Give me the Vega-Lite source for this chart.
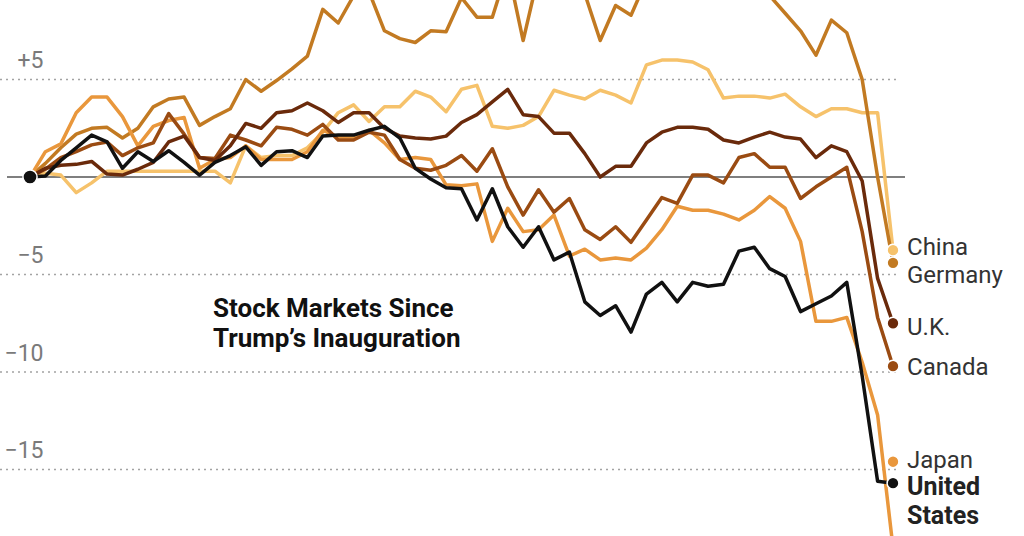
{
  "$schema": "https://vega.github.io/schema/vega-lite/v6.json",
  "width": 1024,
  "height": 536,
  "autosize": {"type": "none"},
  "padding": 0,
  "background": "white",
  "config": {"view": {"stroke": null}},
  "datasets": {
    "markets": [
      {"t": 0, "US": 0, "JP": 0, "CN": 0, "DE": 0, "CA": 0, "UK": 0},
      {"t": 1, "US": 0.05, "JP": 1.3, "CN": 0.2, "DE": 0.7, "CA": 0.4, "UK": 0.45},
      {"t": 2, "US": 0.85, "JP": 1.7, "CN": 0.1, "DE": 1.5, "CA": 1.0, "UK": 0.6},
      {"t": 3, "US": 1.5, "JP": 3.3, "CN": -0.8, "DE": 2.2, "CA": 1.3, "UK": 0.65},
      {"t": 4, "US": 2.15, "JP": 4.1, "CN": -0.3, "DE": 2.5, "CA": 1.65, "UK": 0.8},
      {"t": 5, "US": 1.8, "JP": 4.1, "CN": 0.3, "DE": 2.55, "CA": 1.8, "UK": 0.15},
      {"t": 6, "US": 0.45, "JP": 3.1, "CN": 0.3, "DE": 2.0, "CA": 1.1, "UK": 0.1},
      {"t": 7, "US": 1.3, "JP": 1.6, "CN": 0.3, "DE": 2.5, "CA": 1.5, "UK": 0.4},
      {"t": 8, "US": 0.8, "JP": 2.6, "CN": 0.3, "DE": 3.6, "CA": 1.75, "UK": 0.75},
      {"t": 9, "US": 1.35, "JP": 2.9, "CN": 0.3, "DE": 4.0, "CA": 3.25, "UK": 1.8},
      {"t": 10, "US": 0.75, "JP": 3.05, "CN": 0.3, "DE": 4.1, "CA": 2.2, "UK": 2.1},
      {"t": 11, "US": 0.1, "JP": 0.45, "CN": 0.3, "DE": 2.65, "CA": 1.0, "UK": 1.0},
      {"t": 12, "US": 0.75, "JP": 0.9, "CN": 0.3, "DE": 3.1, "CA": 0.95, "UK": 0.85},
      {"t": 13, "US": 1.1, "JP": 1.0, "CN": -0.3, "DE": 3.5, "CA": 2.15, "UK": 1.6},
      {"t": 14, "US": 1.55, "JP": 1.6, "CN": 1.6, "DE": 5.0, "CA": 1.9, "UK": 2.75},
      {"t": 15, "US": 0.6, "JP": 0.9, "CN": 1.0, "DE": 4.4, "CA": 1.6, "UK": 2.5},
      {"t": 16, "US": 1.3, "JP": 0.9, "CN": 1.1, "DE": 4.95, "CA": 2.55, "UK": 3.3},
      {"t": 17, "US": 1.35, "JP": 0.9, "CN": 1.1, "DE": 5.55, "CA": 2.45, "UK": 3.4},
      {"t": 18, "US": 1.0, "JP": 1.3, "CN": 1.5, "DE": 6.2, "CA": 2.15, "UK": 3.8},
      {"t": 19, "US": 2.1, "JP": 2.4, "CN": 2.3, "DE": 8.6, "CA": 2.7, "UK": 3.4},
      {"t": 20, "US": 2.15, "JP": 2.05, "CN": 3.3, "DE": 7.9, "CA": 1.9, "UK": 2.8},
      {"t": 21, "US": 2.15, "JP": 2.05, "CN": 3.7, "DE": 9.3, "CA": 1.9, "UK": 3.3},
      {"t": 22, "US": 2.4, "JP": 2.4, "CN": 2.85, "DE": 9.5, "CA": 2.3, "UK": 3.3},
      {"t": 23, "US": 2.6, "JP": 1.75, "CN": 3.6, "DE": 7.5, "CA": 2.15, "UK": 2.5},
      {"t": 24, "US": 2.0, "JP": 0.9, "CN": 3.6, "DE": 7.1, "CA": 0.9, "UK": 2.1},
      {"t": 25, "US": 0.45, "JP": 1.0, "CN": 4.4, "DE": 6.9, "CA": 0.45, "UK": 2.0},
      {"t": 26, "US": -0.1, "JP": 0.9, "CN": 4.1, "DE": 7.5, "CA": 0.35, "UK": 1.95},
      {"t": 27, "US": -0.55, "JP": -0.4, "CN": 3.35, "DE": 7.45, "CA": 0.6, "UK": 2.1},
      {"t": 28, "US": -0.6, "JP": -0.45, "CN": 4.5, "DE": 9.2, "CA": 1.1, "UK": 2.8},
      {"t": 29, "US": -2.2, "JP": -0.35, "CN": 4.7, "DE": 8.2, "CA": 0.3, "UK": 3.2},
      {"t": 30, "US": -0.6, "JP": -3.3, "CN": 2.6, "DE": 8.2, "CA": 1.45, "UK": 3.85},
      {"t": 31, "US": -2.55, "JP": -1.6, "CN": 2.5, "DE": 10.7, "CA": -0.5, "UK": 4.5},
      {"t": 32, "US": -3.6, "JP": -2.8, "CN": 2.65, "DE": 7.0, "CA": -1.95, "UK": 3.2},
      {"t": 33, "US": -2.55, "JP": -2.7, "CN": 3.1, "DE": 10.4, "CA": -0.65, "UK": 3.1},
      {"t": 34, "US": -4.25, "JP": -1.95, "CN": 4.45, "DE": 12.0, "CA": -1.8, "UK": 2.25},
      {"t": 35, "US": -3.85, "JP": -4.05, "CN": 4.2, "DE": 10.1, "CA": -1.1, "UK": 2.25},
      {"t": 36, "US": -6.4, "JP": -3.7, "CN": 4.0, "DE": 9.4, "CA": -2.7, "UK": 1.2},
      {"t": 37, "US": -7.1, "JP": -4.25, "CN": 4.45, "DE": 7.0, "CA": -3.2, "UK": 0.0},
      {"t": 38, "US": -6.6, "JP": -4.15, "CN": 4.2, "DE": 8.8, "CA": -2.55, "UK": 0.55},
      {"t": 39, "US": -7.95, "JP": -4.25, "CN": 3.8, "DE": 8.3, "CA": -3.35, "UK": 0.55},
      {"t": 40, "US": -6.0, "JP": -3.65, "CN": 5.75, "DE": 10.1, "CA": -2.2, "UK": 1.75},
      {"t": 41, "US": -5.4, "JP": -2.7, "CN": 6.0, "DE": 10.8, "CA": -1.05, "UK": 2.3},
      {"t": 42, "US": -6.4, "JP": -1.5, "CN": 6.0, "DE": 11.85, "CA": -1.35, "UK": 2.55},
      {"t": 43, "US": -5.4, "JP": -1.7, "CN": 5.9, "DE": 11.4, "CA": 0.1, "UK": 2.55},
      {"t": 44, "US": -5.6, "JP": -1.7, "CN": 5.5, "DE": 10.0, "CA": 0.1, "UK": 2.45},
      {"t": 45, "US": -5.5, "JP": -1.9, "CN": 4.05, "DE": 9.5, "CA": -0.3, "UK": 1.9},
      {"t": 46, "US": -3.8, "JP": -2.2, "CN": 4.15, "DE": 9.3, "CA": 1.0, "UK": 1.75},
      {"t": 47, "US": -3.6, "JP": -1.7, "CN": 4.15, "DE": 10.55, "CA": 1.2, "UK": 2.05},
      {"t": 48, "US": -4.7, "JP": -1.0, "CN": 4.05, "DE": 9.3, "CA": 0.5, "UK": 2.3},
      {"t": 49, "US": -5.1, "JP": -1.6, "CN": 4.25, "DE": 8.4, "CA": 0.5, "UK": 2.05},
      {"t": 50, "US": -6.9, "JP": -3.3, "CN": 3.6, "DE": 7.5, "CA": -1.1, "UK": 1.95},
      {"t": 51, "US": -6.5, "JP": -7.4, "CN": 3.1, "DE": 6.25, "CA": -0.5, "UK": 1.0},
      {"t": 52, "US": -6.1, "JP": -7.4, "CN": 3.5, "DE": 8.05, "CA": 0.0, "UK": 1.6},
      {"t": 53, "US": -5.4, "JP": -7.2, "CN": 3.5, "DE": 7.4, "CA": 0.5, "UK": 1.3},
      {"t": 54, "US": -10.2, "JP": -9.5, "CN": 3.3, "DE": 5.0, "CA": -2.8, "UK": -0.2},
      {"t": 55, "US": -15.6, "JP": -12.2, "CN": 3.3, "DE": 0.0, "CA": -7.2, "UK": -5.2},
      {"t": 56, "US": -15.7, "JP": -19.0, "CN": -3.75, "DE": -4.4, "CA": -9.7, "UK": -7.5}
    ],
    "labels": [
      {"k": "CN", "name": "China", "t": 56, "dot": -3.75, "lab": -4.0},
      {"k": "DE", "name": "Germany", "t": 56, "dot": -4.4, "lab": -5.45},
      {"k": "UK", "name": "U.K.", "t": 56, "dot": -7.5, "lab": -8.1},
      {"k": "CA", "name": "Canada", "t": 56, "dot": -9.7, "lab": -10.15},
      {"k": "JP", "name": "Japan", "t": 56, "dot": -14.6, "lab": -14.92},
      {"k": "US", "name": "United\nStates", "t": 56, "dot": -15.7, "lab": -16.3}
    ],
    "grid": [{"v": 5}, {"v": -5}, {"v": -10}, {"v": -15}]
  },
  "layer": [
    {
      "data": {"name": "grid"},
      "mark": {"type": "rule", "color": "#a3a3a3", "strokeWidth": 1.4, "strokeDash": [2, 4]},
      "encoding": {
        "x": {"datum": -1.947, "type": "quantitative", "scale": {"domain": [-1.947, 64.5], "nice": false, "zero": false}, "axis": null},
        "x2": {"datum": 56.26},
        "y": {
          "field": "v",
          "type": "quantitative",
          "scale": {"domain": [-18.41, 9.08], "nice": false, "zero": false},
          "axis": {
            "orient": "left",
            "values": [5, -5, -10, -15],
            "title": null,
            "grid": false,
            "domain": false,
            "ticks": false,
            "tickSize": 0,
            "labelPadding": -43,
            "labelAlign": "right",
            "labelBaseline": "alphabetic",
            "labelOffset": -12,
            "labelFont": "Roboto",
            "labelFontSize": 23,
            "labelColor": "#7a7a7a",
            "labelExpr": "datum.value > 0 ? '+' + datum.value : '−' + abs(datum.value)"
          }
        }
      }
    },
    {
      "data": {"values": [{}]},
      "mark": {"type": "rule", "color": "#555555", "strokeWidth": 1.5},
      "encoding": {
        "x": {"datum": -1.493, "type": "quantitative", "scale": {"domain": [-1.947, 64.5], "nice": false, "zero": false}},
        "x2": {"datum": 56.78},
        "y": {"datum": 0, "type": "quantitative", "scale": {"domain": [-18.41, 9.08], "nice": false, "zero": false}}
      }
    },
    {
      "data": {"name": "markets"},
      "transform": [{"fold": ["CN", "DE", "JP", "CA", "UK", "US"], "as": ["k", "v"]}],
      "mark": {"type": "line", "strokeWidth": 3.5, "strokeJoin": "round", "clip": true},
      "encoding": {
        "x": {"field": "t", "type": "quantitative", "scale": {"domain": [-1.947, 64.5], "nice": false, "zero": false}},
        "y": {"field": "v", "type": "quantitative", "scale": {"domain": [-18.41, 9.08], "nice": false, "zero": false}},
        "color": {
          "field": "k",
          "type": "nominal",
          "scale": {
            "domain": ["CN", "DE", "JP", "CA", "UK", "US"],
            "range": ["#f6c26b", "#c27a22", "#e9973c", "#9a4b12", "#6a2a0b", "#111111"]
          },
          "legend": null
        }
      }
    },
    {
      "data": {"values": [{}]},
      "mark": {"type": "point", "filled": true, "size": 200, "color": "#111111", "stroke": "white", "strokeWidth": 1.5, "opacity": 1},
      "encoding": {
        "x": {"datum": 0, "type": "quantitative"},
        "y": {"datum": 0, "type": "quantitative"}
      }
    },
    {
      "data": {"name": "labels"},
      "mark": {"type": "point", "filled": true, "size": 140, "stroke": "white", "strokeWidth": 1.5, "opacity": 1},
      "encoding": {
        "x": {"field": "t", "type": "quantitative"},
        "y": {"field": "dot", "type": "quantitative"},
        "fill": {"field": "k", "type": "nominal", "scale": {"domain": ["CN", "DE", "JP", "CA", "UK", "US"], "range": ["#f6c26b", "#c27a22", "#e9973c", "#9a4b12", "#6a2a0b", "#111111"]}, "legend": null}
      }
    },
    {
      "data": {"name": "labels"},
      "transform": [{"filter": "datum.k != 'US'"}],
      "mark": {"type": "text", "align": "left", "baseline": "alphabetic", "dx": 14, "font": "Roboto", "fontSize": 24, "color": "#333333"},
      "encoding": {
        "x": {"field": "t", "type": "quantitative"},
        "y": {"field": "lab", "type": "quantitative"},
        "text": {"field": "name"}
      }
    },
    {
      "data": {"name": "labels"},
      "transform": [{"filter": "datum.k == 'US'"}],
      "mark": {"type": "text", "align": "left", "baseline": "alphabetic", "dx": 14, "font": "Roboto", "fontSize": 25, "fontWeight": "bold", "color": "#222222", "lineBreak": "\n", "lineHeight": 29},
      "encoding": {
        "x": {"field": "t", "type": "quantitative"},
        "y": {"field": "lab", "type": "quantitative"},
        "text": {"field": "name"}
      }
    },
    {
      "data": {"values": [{}]},
      "mark": {
        "type": "text",
        "text": ["Stock Markets Since", "Trump’s Inauguration"],
        "align": "left",
        "baseline": "alphabetic",
        "font": "Roboto",
        "fontSize": 26,
        "fontWeight": "bold",
        "color": "#111111",
        "lineHeight": 30
      },
      "encoding": {
        "x": {"datum": 11.875, "type": "quantitative"},
        "y": {"datum": -7.18, "type": "quantitative"}
      }
    }
  ]
}
